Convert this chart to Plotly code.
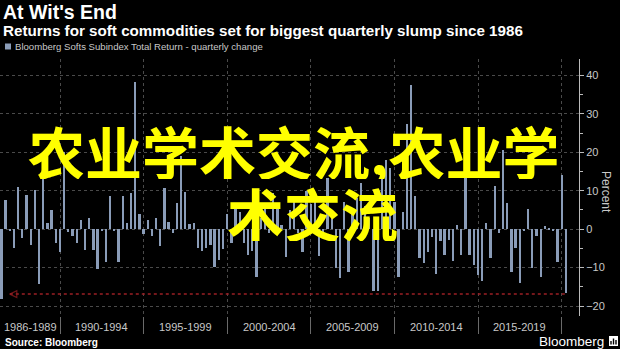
import pandas as pd
import plotly.graph_objects as go

# ---- data -------------------------------------------------------------
first_quarter = "1986Q2"
quarterly_change = [
    -18.1, 7.5, -0.5, -5.0, 10.9, -2.4, 8.8, -4.2, 10.1, -14.3,
    16.0, 1.5, 4.9, -3.6, -6.0, 20.0, -0.7, -1.7, -3.5, 2.3,
    -5.3, 2.8, -5.4, -10.4, -0.4, -8.5, 8.6, -0.4, -8.5, 8.6,
    1.6, 9.3, 38.2, 3.9, -1.2, 2.3, -1.7, 2.8, -4.3, 10.6,
    2.0, -1.1, 6.9, 19.0, 9.8, 1.4, 1.7, -4.8, -5.6, -4.8,
    -4.2, -9.8, -8.1, -5.2, 4.0, -3.7, 6.0, 4.5, -3.7, -6.8,
    -5.6, -12.4, 3.0, 5.4, -1.1, 9.5, 6.3, 1.0, -7.2, 5.0,
    7.0, -1.1, -5.9, 10.0, 6.5, 8.0, -7.0, -2.4, 13.2, 4.5,
    -10.0, -12.6, 7.0, -11.1, 4.0, 8.0, 12.0, 6.0, 3.0, -16.0,
    -16.0, 14.0, 18.0, 16.0, 7.0, -12.4, 4.5, 27.4, 37.5, 8.6,
    -7.5, -8.8, -5.9, -2.0, -11.7, -3.1, -6.8, -2.9, -8.2, 1.0,
    -6.8, 21.3, -6.8, -9.4, -11.8, -13.5, 1.6, -7.5, 11.2, -0.9,
    20.5, 6.9, -11.1, -4.8, -14.1, -0.5, 5.2, -10.0, -1.7, -12.4,
    0.8, 0.4, -0.3, -8.5, 14.0, -16.6,
]
period_labels = ["1986-1989", "1990-1994", "1995-1999", "2000-2004",
                 "2005-2009", "2010-2014", "2015-2019"]
period_bounds = ["1986-05-31", "1990-01-01", "1995-01-01", "2000-01-01",
                 "2005-01-01", "2010-01-01", "2015-01-01", "2020-01-01"]
x_end = "2021-01-13"
y_ticks = [-20, -10, 0, 10, 20, 30, 40]
y_range = [-22.6, 44.3]

title = "At Wit's End"
subtitle = "Returns for soft commodities set for biggest quarterly slump since 1986"
series_name = "Bloomberg Softs Subindex Total Return - quarterly change"
source_text = "Source: Bloomberg"
brand_text = "Bloomberg"
overlay_lines = ["农业学术交流,农业学", "术交流"]

# quarter-end dates for each bar
quarter_end = (pd.period_range(first_quarter, periods=len(quarterly_change), freq="Q")
               .to_timestamp(how="end").normalize())

# ---- geometry helpers (pixels -> paper coordinates) --------------------
W, H = 620, 349
PLOT_RIGHT, PLOT_TOP, PLOT_BOTTOM = 579, 59, 316


def px(x):
    return x / PLOT_RIGHT


def py(y):
    return (PLOT_BOTTOM - y) / (PLOT_BOTTOM - PLOT_TOP)


BAR_COLOR = "#8a9cb8"
GRID = "#4a4a4a"
TEXT = "#c8c8c8"
BODY_FONT = "Liberation Sans, Arial, sans-serif"

fig = go.Figure()

fig.add_trace(go.Bar(
    x=quarter_end, y=quarterly_change,
    width=50 * 86400000,
    marker=dict(color=BAR_COLOR, line=dict(width=0)),
    name=series_name, showlegend=False,
))

# dotted red guide from the latest quarter back to the 1986 slump
fig.add_trace(go.Scatter(
    x=[quarter_end[2], quarter_end[-1]],
    y=[quarterly_change[-1] - 0.3] * 2,
    mode="lines+markers",
    line=dict(color="#9a1f24", width=1.5, dash="dot"),
    marker=dict(symbol=["arrow-left-open", "circle"], size=[7, 0],
                color="#9a1f24", line=dict(color="#9a1f24", width=1.2)),
    showlegend=False, hoverinfo="skip",
))

annotations = []

# period labels centred between the boundaries
bounds = pd.to_datetime(period_bounds)
for i, lab in enumerate(period_labels):
    mid = bounds[i] + (bounds[i + 1] - bounds[i]) / 2
    annotations.append(dict(
        x=mid, xref="x", y=py(327), yref="paper", text=lab,
        showarrow=False, xanchor="center", yanchor="middle",
        font=dict(size=11, color=TEXT, family=BODY_FONT)))

# headline block
header = [
    dict(x=px(1), y=py(11.5), text="<b>%s</b>" % title, font=dict(size=19.5, color="white")),
    dict(x=px(1), y=py(30.5), text="<b>%s</b>" % subtitle, font=dict(size=15.2, color="white")),
    dict(x=px(13), y=py(46.5), text=series_name, font=dict(size=9.6, color=TEXT)),
    dict(x=px(3), y=py(342), text="<b>%s</b>" % source_text, font=dict(size=10, color="white")),
    dict(x=px(606), y=py(341), text=brand_text, xanchor="right",
         font=dict(size=13.5, color="white")),
]
for a in header:
    a.update(xref="paper", yref="paper", showarrow=False, yanchor="middle",
             font=dict(a["font"], family=BODY_FONT))
    a.setdefault("xanchor", "left")
annotations += header

# axis title on the right
annotations.append(dict(
    x=px(606), y=py(192), xref="paper", yref="paper", text="Percent",
    textangle=90, showarrow=False, xanchor="center", yanchor="middle",
    font=dict(size=12, color=TEXT, family=BODY_FONT)))

# large yellow caption across the plot (two lines, tight boxes)
for text, cx, cy in [(overlay_lines[0], 294, 150), (overlay_lines[1], 312, 212)]:
    annotations.append(dict(
        x=px(cx), y=py(cy), xref="paper", yref="paper", text=text,
        showarrow=False, xanchor="center", yanchor="middle", height=58,
        valign="middle",
        font=dict(size=57, color="#ffff00", family="Noto Sans CJK SC", weight="bold")))

shapes = [
    # legend swatch
    dict(type="rect", xref="paper", yref="paper",
         x0=px(5), x1=px(11), y0=py(49.5), y1=py(43.5),
         fillcolor=BAR_COLOR, line=dict(width=0)),
    # small brand mark
    dict(type="rect", xref="paper", yref="paper",
         x0=px(609), x1=px(618), y0=py(346), y1=py(336),
         fillcolor="white", line=dict(width=0)),
]
for bx, top in [(611, 341), (613.5, 338.5), (616, 340)]:
    shapes.append(dict(type="rect", xref="paper", yref="paper",
                       x0=px(bx - 0.7), x1=px(bx + 0.7), y0=py(344.5), y1=py(top),
                       fillcolor="black", line=dict(width=0)))

fig.update_layout(
    width=W, height=H,
    margin=dict(l=0, r=W - PLOT_RIGHT, t=PLOT_TOP, b=H - PLOT_BOTTOM, pad=0),
    paper_bgcolor="black", plot_bgcolor="black",
    font=dict(family=BODY_FONT, color=TEXT),
    bargap=0,
    annotations=annotations,
    shapes=shapes,
    xaxis=dict(
        type="date", range=[period_bounds[0], x_end],
        tickmode="array", tickvals=period_bounds[1:],
        showticklabels=False, ticks="outside", ticklen=17,
        tickcolor="#6a6a6a", tickwidth=1,
        showgrid=True, gridcolor=GRID, griddash="dot", gridwidth=1,
        showline=False, zeroline=False,
    ),
    yaxis=dict(
        side="right", range=y_range,
        tickmode="array", tickvals=y_ticks,
        ticks="outside", ticklen=4, tickcolor="#bbbbbb",
        tickfont=dict(size=11, color=TEXT, family=BODY_FONT),
        showline=True, linecolor="#bbbbbb", linewidth=1,
        showgrid=True, gridcolor=GRID, griddash="dot", gridwidth=1,
        zeroline=False,
        minor=dict(tickvals=[-15, -5, 5, 15, 25, 35], ticks="outside",
                   ticklen=3, tickcolor="#bbbbbb", showgrid=False),
    ),
)

fig.write_html("out.html")
